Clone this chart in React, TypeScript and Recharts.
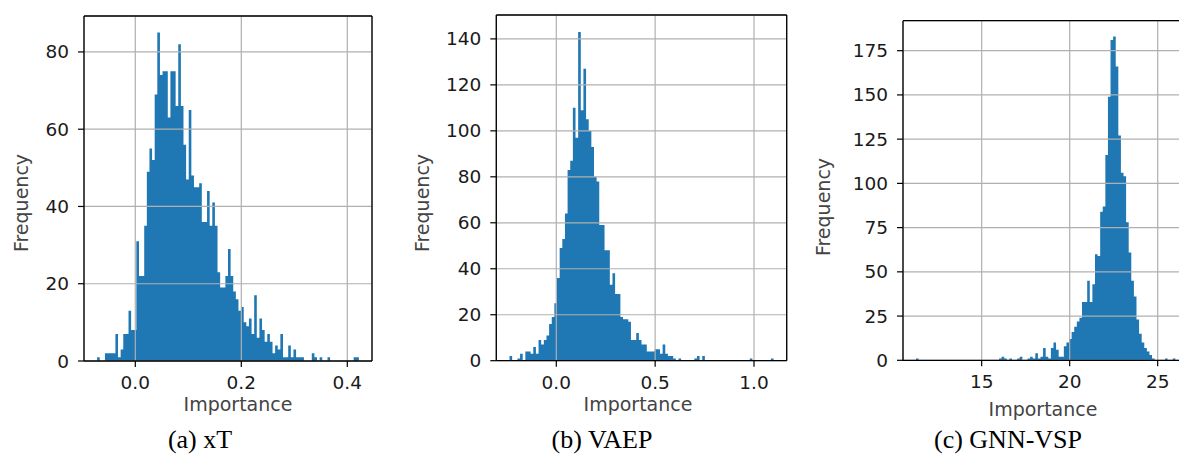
import React from 'react';
import { ComposedChart, Area, XAxis, YAxis, CartesianGrid, Label, ReferenceLine } from 'recharts';

// histogram counts, 100 bins each
const xtCounts = [
  1, 0, 0, 2, 2, 2, 2, 7, 1, 3,
  7, 7, 13, 8, 8, 31, 22, 22, 35, 49,
  55, 52, 69, 85, 74, 75, 75, 63, 75, 75,
  66, 82, 66, 56, 47, 65, 48, 45, 45, 46,
  36, 36, 44, 35, 41, 35, 23, 19, 19, 22,
  29, 22, 18, 16, 13, 14, 10, 9, 11, 7,
  17, 6, 11, 8, 5, 7, 5, 2, 4, 3,
  7, 1, 1, 4, 1, 3, 1, 1, 1, 0,
  0, 0, 2, 1, 0, 1, 0, 0, 1, 0,
  0, 0, 0, 0, 0, 0, 0, 0, 1, 1,
];

const vaepCounts = [
  2, 0, 0, 1, 3, 0, 4, 4, 3, 6,
  3, 9, 7, 9, 11, 16, 19, 25, 36, 49,
  53, 64, 83, 87, 110, 97, 143, 109, 127, 105,
  100, 93, 80, 78, 59, 59, 48, 48, 33, 38,
  29, 29, 19, 18, 18, 17, 9, 9, 12, 9,
  7, 7, 4, 4, 4, 5, 5, 3, 7, 3,
  2, 2, 1, 0, 1, 0, 0, 0, 0, 0,
  1, 2, 0, 2, 0, 0, 0, 0, 0, 0,
  0, 0, 0, 0, 0, 0, 0, 0, 0, 0,
  0, 1, 0, 0, 0, 0, 0, 0, 0, 1,
];

const gnnCounts = [
  1, 0, 0, 0, 0, 0, 0, 0, 0, 0,
  0, 0, 0, 0, 0, 0, 0, 0, 0, 0,
  0, 0, 0, 0, 0, 0, 0, 0, 0, 0,
  0, 0, 1, 2, 1, 0, 1, 0, 0, 1,
  2, 0, 0, 1, 2, 1, 4, 1, 2, 7,
  2, 1, 7, 10, 6, 2, 2, 8, 10, 12,
  16, 19, 22, 24, 33, 33, 45, 33, 43, 60,
  59, 84, 87, 116, 149, 181, 183, 166, 127, 106,
  104, 78, 61, 45, 36, 23, 15, 10, 7, 5,
  3, 1, 0, 0, 0, 0, 1, 0, 0, 1,
];

// first bin edge and bin width
const xtBins = [-0.0721, 0.00494];
const vaepBins = [-0.2367, 0.013354];
const gnnBins = [11.267, 0.1474];

const xtXTicks = [0, 0.2, 0.4];
const xtYTicks = [0, 20, 40, 60, 80];
const vaepXTicks = [0, 0.5, 1.0];
const vaepYTicks = [0, 20, 40, 60, 80, 100, 120, 140];
const gnnXTicks = [15, 20, 25];
const gnnYTicks = [0, 25, 50, 75, 100, 125, 150, 175];

const captions = ['(a) xT', '(b) VAEP', '(c) GNN-VSP'];

const H = 468;
const AXIS_W = 60;
const tickFont = { fontFamily: 'DejaVu Sans', fontSize: 18.5, fill: '#1a1a1a' };
const labelFont = { fontFamily: 'DejaVu Sans', fontSize: 19, fill: '#444' };
const spine = { stroke: '#000', strokeWidth: 1.3 };

const Panel = ({ counts, bins, left, width, plot, xDomain, yMax, xTicks, yTicks, xFmt, xLabelPos, yLabelPos }: any) => {
  const data = counts.map((c: number, i: number) => ({ x: bins[0] + i * bins[1], y: c }));
  data.push({ x: bins[0] + counts.length * bins[1], y: 0 });

  return (
    <div style={{ position: 'absolute', left, top: 0 }}>
      <ComposedChart
        width={width}
        height={H}
        data={data}
        margin={{ left: plot[0] - AXIS_W, top: plot[1], right: width - plot[2], bottom: H - plot[3] - AXIS_W }}
      >
        <Area
          type="stepAfter"
          dataKey="y"
          fill="#1f77b4"
          fillOpacity={1}
          stroke="none"
          isAnimationActive={false}
          dot={false}
          activeDot={false}
        />
        <CartesianGrid stroke="#b0b0b0" strokeWidth={1.2} zIndex={150} />
        <XAxis
          dataKey="x"
          type="number"
          domain={xDomain}
          allowDataOverflow
          ticks={xTicks}
          interval={0}
          tickFormatter={xFmt}
          height={AXIS_W}
          tickSize={6}
          tickMargin={9}
          tick={tickFont}
          axisLine={spine}
          tickLine={{ stroke: '#000', strokeWidth: 1.2 }}
        >
          <Label
            content={() => (
              <text x={xLabelPos[0]} y={xLabelPos[1]} textAnchor="middle" {...labelFont}>
                Importance
              </text>
            )}
          />
        </XAxis>
        <YAxis
          type="number"
          domain={[0, yMax]}
          allowDataOverflow
          ticks={yTicks}
          interval={0}
          width={AXIS_W}
          tickSize={6}
          tickMargin={9}
          tick={tickFont}
          axisLine={spine}
          tickLine={{ stroke: '#000', strokeWidth: 1.2 }}
        >
          <Label
            content={() => (
              <text
                x={yLabelPos[0]}
                y={yLabelPos[1]}
                textAnchor="middle"
                dominantBaseline="central"
                transform={`rotate(-90, ${yLabelPos[0]}, ${yLabelPos[1]})`}
                {...labelFont}
              >
                Frequency
              </text>
            )}
          />
        </YAxis>
        {/* top and right spines */}
        <ReferenceLine y={yMax} ifOverflow="visible" {...spine} />
        <ReferenceLine x={xDomain[1]} ifOverflow="visible" {...spine} />
      </ComposedChart>
    </div>
  );
};

const fmt1 = (v: number) => v.toFixed(1);
const fmt0 = (v: number) => String(v);

export default function App() {
  return (
    <div style={{ position: 'absolute', left: 0, top: 0, width: 1179, height: H, overflow: 'hidden', background: '#fff' }}>
      <Panel
        counts={xtCounts}
        bins={xtBins}
        left={0}
        width={400}
        plot={[84, 16, 372, 361]}
        xDomain={[-0.0968, 0.4466]}
        yMax={89.3}
        xTicks={xtXTicks}
        yTicks={xtYTicks}
        xFmt={fmt1}
        xLabelPos={[238, 411]}
        yLabelPos={[21, 203]}
      />
      <Panel
        counts={vaepCounts}
        bins={vaepBins}
        left={400}
        width={395}
        plot={[96.3, 15, 386.7, 360.7]}
        xDomain={[-0.3035, 1.1654]}
        yMax={150.4}
        xTicks={vaepXTicks}
        yTicks={vaepYTicks}
        xFmt={fmt1}
        xLabelPos={[238, 411]}
        yLabelPos={[22, 203]}
      />
      <Panel
        counts={gnnCounts}
        bins={gnnBins}
        left={795}
        width={400}
        plot={[108, 20.7, 393.3, 360.3]}
        xDomain={[10.53, 26.74]}
        yMax={191.95}
        xTicks={gnnXTicks}
        yTicks={gnnYTicks}
        xFmt={fmt0}
        xLabelPos={[248, 416]}
        yLabelPos={[28, 207]}
      />
      <svg width={1179} height={H} style={{ position: 'absolute', left: 0, top: 0, pointerEvents: 'none' }}>
        {captions.map((c, i) => (
          <text
            key={c}
            x={[200, 602, 1008][i]}
            y={448}
            textAnchor="middle"
            fontFamily="Liberation Serif"
            fontSize={26}
            fill="#000"
          >
            {c}
          </text>
        ))}
      </svg>
    </div>
  );
}
